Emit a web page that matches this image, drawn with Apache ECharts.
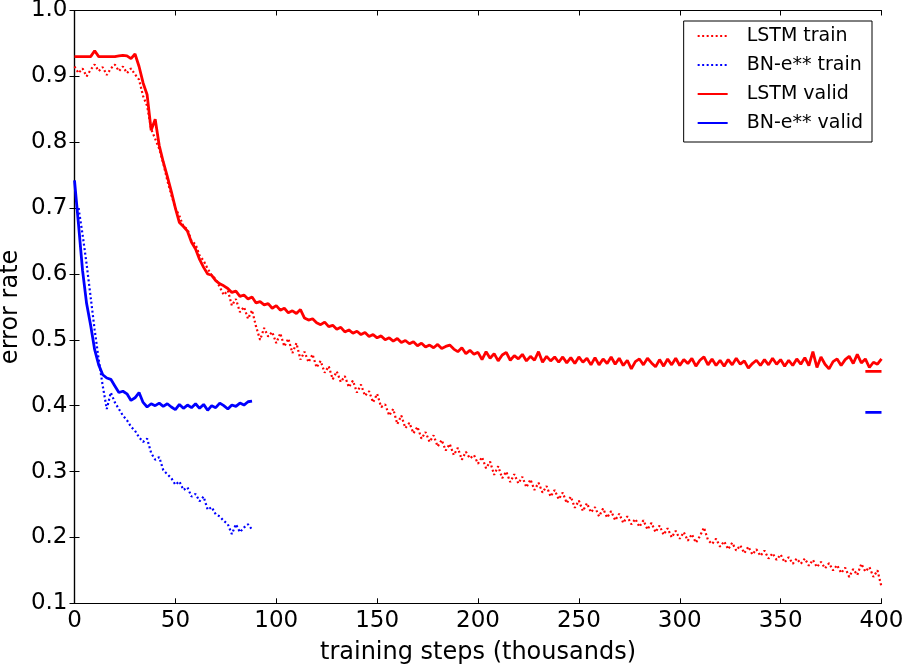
<!DOCTYPE html>
<html>
<head>
<meta charset="utf-8">
<script src="https://cdn.jsdelivr.net/npm/echarts@6/dist/echarts.min.js"></script>
<style>
  html, body { margin: 0; padding: 0; background: #fff; }
  #chart { width: 904px; height: 665px; }
</style>
</head>
<body>
<div id="chart"></div>
<script>
// sampling grid of the curves (thousands of steps)
var redStart = 0, blueValidStart = 0, blueTrainStart = 2, stepSize = 2;

// LSTM valid, x = 0..400 every 2
var lstmValid = [
    0.930, 0.930, 0.930, 0.930, 0.930, 0.939, 0.930, 0.930, 0.930, 0.930,
    0.930, 0.931, 0.932, 0.931, 0.927, 0.934, 0.915, 0.890, 0.872, 0.818,
    0.835, 0.795, 0.770, 0.748, 0.725, 0.700, 0.678, 0.672, 0.665, 0.648,
    0.638, 0.622, 0.610, 0.600, 0.598, 0.590, 0.585, 0.582, 0.578, 0.572,
    0.574, 0.566, 0.568, 0.562, 0.565, 0.556, 0.558, 0.553, 0.555, 0.548,
    0.552, 0.545, 0.548, 0.541, 0.544, 0.540, 0.546, 0.533, 0.530, 0.532,
    0.526, 0.523, 0.527, 0.520, 0.522, 0.516, 0.519, 0.512, 0.515, 0.510,
    0.513, 0.508, 0.511, 0.505, 0.508, 0.503, 0.506, 0.500, 0.503, 0.498,
    0.502, 0.496, 0.499, 0.494, 0.497, 0.491, 0.495, 0.489, 0.492, 0.488,
    0.493, 0.487, 0.490, 0.492, 0.486, 0.482, 0.488, 0.479, 0.484, 0.478,
    0.481, 0.470, 0.482, 0.472, 0.479, 0.468, 0.477, 0.481, 0.469, 0.476,
    0.471, 0.478, 0.468, 0.475, 0.469, 0.482, 0.466, 0.475, 0.468, 0.474,
    0.466, 0.474, 0.465, 0.473, 0.464, 0.474, 0.466, 0.472, 0.462, 0.473,
    0.462, 0.471, 0.464, 0.474, 0.463, 0.472, 0.461, 0.469, 0.456, 0.467,
    0.471, 0.462, 0.472, 0.465, 0.459, 0.470, 0.460, 0.471, 0.462, 0.472,
    0.461, 0.470, 0.464, 0.472, 0.460, 0.469, 0.474, 0.462, 0.471, 0.461,
    0.469, 0.460, 0.470, 0.462, 0.472, 0.463, 0.468, 0.457, 0.464, 0.469,
    0.461, 0.470, 0.462, 0.472, 0.463, 0.470, 0.460, 0.469, 0.461, 0.471,
    0.463, 0.473, 0.461, 0.482, 0.458, 0.474, 0.463, 0.456, 0.467, 0.471,
    0.461, 0.470, 0.475, 0.464, 0.478, 0.465, 0.471, 0.458, 0.466, 0.463,
    0.471
];

// LSTM train, x = 0..400 every 2
var lstmTrain = [
    0.915, 0.905, 0.912, 0.900, 0.910, 0.918, 0.908, 0.914, 0.902, 0.912,
    0.918, 0.908, 0.915, 0.905, 0.912, 0.903, 0.895, 0.870, 0.855, 0.820,
    0.805, 0.790, 0.768, 0.742, 0.720, 0.700, 0.688, 0.672, 0.668, 0.650,
    0.645, 0.628, 0.620, 0.608, 0.598, 0.592, 0.580, 0.568, 0.575, 0.552,
    0.562, 0.542, 0.550, 0.532, 0.545, 0.520, 0.500, 0.518, 0.505, 0.512,
    0.495, 0.510, 0.490, 0.502, 0.480, 0.495, 0.470, 0.482, 0.466, 0.478,
    0.458, 0.468, 0.450, 0.460, 0.440, 0.452, 0.436, 0.445, 0.428, 0.438,
    0.420, 0.432, 0.415, 0.422, 0.405, 0.418, 0.398, 0.402, 0.385, 0.395,
    0.372, 0.385, 0.366, 0.374, 0.358, 0.368, 0.350, 0.360, 0.345, 0.355,
    0.338, 0.348, 0.332, 0.342, 0.325, 0.336, 0.318, 0.330, 0.320, 0.325,
    0.312, 0.322, 0.305, 0.315, 0.295, 0.308, 0.290, 0.300, 0.284, 0.296,
    0.282, 0.292, 0.276, 0.288, 0.272, 0.283, 0.268, 0.278, 0.262, 0.272,
    0.258, 0.268, 0.252, 0.262, 0.245, 0.256, 0.240, 0.252, 0.238, 0.246,
    0.232, 0.244, 0.230, 0.240, 0.226, 0.236, 0.222, 0.232, 0.220, 0.228,
    0.216, 0.226, 0.212, 0.222, 0.208, 0.218, 0.204, 0.214, 0.200, 0.210,
    0.198, 0.208, 0.195, 0.205, 0.192, 0.202, 0.215, 0.196, 0.190, 0.198,
    0.186, 0.194, 0.182, 0.192, 0.180, 0.188, 0.176, 0.186, 0.174, 0.182,
    0.172, 0.180, 0.168, 0.176, 0.166, 0.174, 0.162, 0.170, 0.160, 0.168,
    0.160, 0.168, 0.157, 0.166, 0.155, 0.163, 0.153, 0.161, 0.150, 0.158,
    0.146, 0.154, 0.140, 0.152, 0.143, 0.160, 0.148, 0.155, 0.140, 0.150,
    0.125
];

// BN-e** valid, x = 0..88 every 2
var bnValid = [
    0.742, 0.675, 0.605, 0.555, 0.522, 0.485, 0.462, 0.447, 0.442, 0.440,
    0.430, 0.420, 0.422, 0.418, 0.408, 0.412, 0.420, 0.405, 0.398, 0.403,
    0.400, 0.404, 0.399, 0.403, 0.398, 0.394, 0.402, 0.396, 0.401, 0.397,
    0.403, 0.396, 0.402, 0.393, 0.400, 0.397, 0.404, 0.400, 0.395, 0.401,
    0.399, 0.404, 0.401, 0.406, 0.407
];

// BN-e** train, x = 2..88 every 2
var bnTrain = [
    0.700, 0.660, 0.615, 0.565, 0.515, 0.470, 0.430, 0.395, 0.420, 0.405,
    0.395, 0.385, 0.378, 0.368, 0.362, 0.352, 0.345, 0.350, 0.328, 0.318,
    0.322, 0.302, 0.296, 0.290, 0.280, 0.285, 0.272, 0.276, 0.262, 0.266,
    0.255, 0.262, 0.242, 0.246, 0.235, 0.232, 0.225, 0.220, 0.205, 0.220,
    0.208, 0.215, 0.220, 0.212
];

// short test-error marks at the right edge
var testSpan = [392, 400];
var lstmTest = 0.452;
var bnTest = 0.390;

var legendNames = ['LSTM train', 'BN-e** train', 'LSTM valid', 'BN-e** valid'];

function pairs(start, vals) {
    var d = [];
    for (var i = 0; i < vals.length; i++) {
        d.push([start + i * stepSize, vals[i]]);
    }
    return d;
}
function flat(val) {
    return [[testSpan[0], val], [testSpan[1], val]];
}

var font = 'DejaVu Sans';
var RED = '#ff0000', BLUE = '#0000ff';
var dots = [2, 2.5];

function lineSerie(name, data, color, dashed) {
    return {
        name: name,
        type: 'line',
        symbol: 'none',
        data: data,
        lineStyle: {color: color, width: dashed ? 2.2 : 2.8, type: dashed ? dots : 'solid', cap: 'butt'},
        itemStyle: {color: color},
        emphasis: {disabled: true}
    };
}

var axisBlack = {lineStyle: {color: '#000', width: 1.2}};
var tickIn = {inside: true, length: 5, lineStyle: {color: '#000', width: 1}};

var option = {
    animation: false,
    backgroundColor: '#fff',
    grid: {left: 74.5, right: 22.5, top: 10.5, bottom: 61.7, outerBoundsMode: 'none', containLabel: false},
    legend: {
        orient: 'vertical',
        right: 32,
        top: 21,
        data: legendNames,
        itemWidth: 30,
        itemHeight: 14,
        itemGap: 9,
        padding: [5, 9, 9, 13],
        borderColor: '#000',
        borderWidth: 1,
        borderRadius: 0,
        backgroundColor: '#fff',
        itemStyle: {opacity: 0},
        textStyle: {fontSize: 19, fontFamily: font, color: '#000', lineHeight: 20, padding: [0, 0, 0, 14]}
    },
    xAxis: [{
        type: 'value', min: 0, max: 400, interval: 50,
        axisLine: axisBlack, axisTick: tickIn, splitLine: {show: false},
        axisLabel: {color: '#000', fontSize: 23, fontFamily: font, margin: 6},
        name: 'training steps (thousands)', nameLocation: 'middle', nameGap: 37,
        nameMoveOverlap: false,
        nameTextStyle: {color: '#000', fontSize: 24, fontFamily: font}
    }, {
        type: 'value', min: 0, max: 400, interval: 50, position: 'top',
        axisLine: axisBlack, axisTick: tickIn, splitLine: {show: false},
        axisLabel: {show: false}
    }],
    yAxis: [{
        type: 'value', min: 0.1, max: 1.0, interval: 0.1,
        axisLine: axisBlack, axisTick: tickIn, splitLine: {show: false},
        axisLabel: {color: '#000', fontSize: 23, fontFamily: font, margin: 7,
            formatter: function (v) { return v.toFixed(1); }},
        name: 'error rate', nameLocation: 'middle', nameGap: 52, nameRotate: 90,
        nameMoveOverlap: false,
        nameTextStyle: {color: '#000', fontSize: 24, fontFamily: font}
    }, {
        type: 'value', min: 0.1, max: 1.0, interval: 0.1, position: 'right',
        axisLine: axisBlack, axisTick: tickIn, splitLine: {show: false},
        axisLabel: {show: false}
    }],
    series: [
        lineSerie('LSTM train', pairs(redStart, lstmTrain), RED, true),
        lineSerie('BN-e** train', pairs(blueTrainStart, bnTrain), BLUE, true),
        lineSerie('LSTM valid', pairs(redStart, lstmValid), RED, false),
        lineSerie('BN-e** valid', pairs(blueValidStart, bnValid), BLUE, false),
        lineSerie('LSTM test', flat(lstmTest), RED, false),
        lineSerie('BN-e** test', flat(bnTest), BLUE, false)
    ]
};

var chart = echarts.init(document.getElementById('chart'), null, {renderer: 'canvas'});
chart.setOption(option);
</script>
</body>
</html>
